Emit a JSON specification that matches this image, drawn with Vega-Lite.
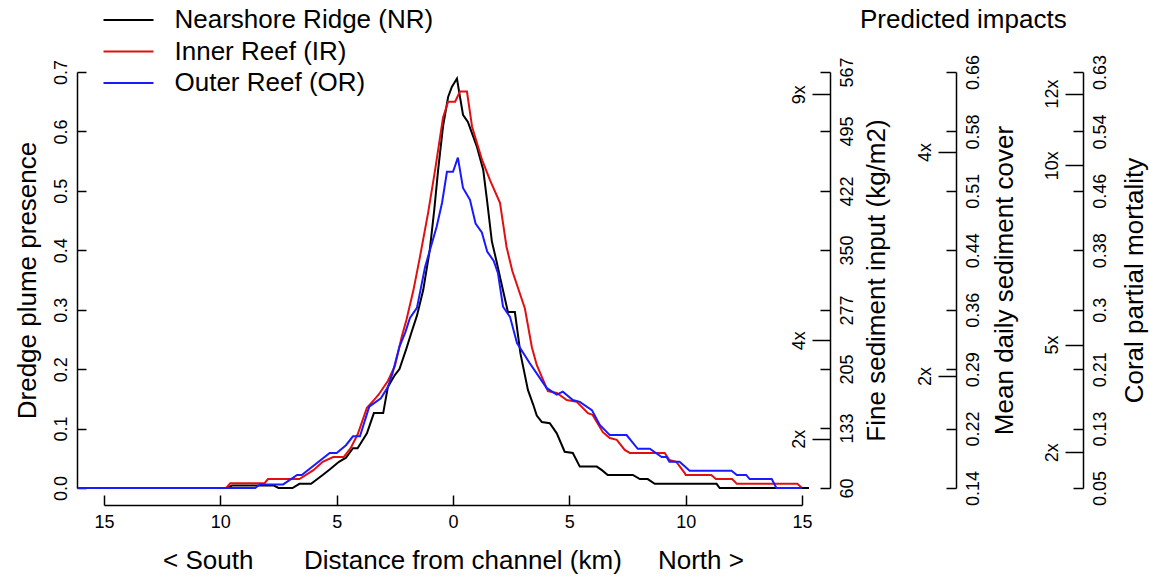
{
  "$schema": "https://vega.github.io/schema/vega-lite/v6.json",
  "width": 753,
  "height": 450,
  "autosize": {"type": "none"},
  "padding": {"left": 77, "top": 55, "right": 319, "bottom": 72},
  "background": "white",
  "config": {
    "font": "Liberation Sans",
    "view": {"stroke": null},
    "axis": {
      "grid": false,
      "labelFlush": false,
      "labelFont": "Liberation Sans",
      "titleFont": "Liberation Sans",
      "labelFontSize": 18,
      "titleFontSize": 26,
      "titleFontWeight": "normal",
      "labelColor": "black",
      "titleColor": "black",
      "domainColor": "black",
      "tickColor": "black",
      "domainWidth": 1.5,
      "tickWidth": 1.5
    },
    "legend": {
      "labelFont": "Liberation Sans",
      "labelFontSize": 26,
      "labelColor": "black",
      "labelLimit": 600
    }
  },
  "title": {
    "text": "Predicted impacts",
    "anchor": "start",
    "frame": "group",
    "dx": 783,
    "dy": 50,
    "offset": 24,
    "fontSize": 26,
    "fontWeight": "normal",
    "font": "Liberation Sans",
    "color": "black"
  },
  "layer": [
    {
      "data": {
        "values": [
          {"site": "Nearshore Ridge (NR)", "km": -16.1, "p": 0},
          {"site": "Nearshore Ridge (NR)", "km": -9.7, "p": 0},
          {"site": "Nearshore Ridge (NR)", "km": -9.5, "p": 0.004},
          {"site": "Nearshore Ridge (NR)", "km": -7.7, "p": 0.004},
          {"site": "Nearshore Ridge (NR)", "km": -7.5, "p": 0},
          {"site": "Nearshore Ridge (NR)", "km": -6.9, "p": 0},
          {"site": "Nearshore Ridge (NR)", "km": -6.6, "p": 0.007},
          {"site": "Nearshore Ridge (NR)", "km": -6.1, "p": 0.007},
          {"site": "Nearshore Ridge (NR)", "km": -5.9, "p": 0.013},
          {"site": "Nearshore Ridge (NR)", "km": -5.6, "p": 0.022},
          {"site": "Nearshore Ridge (NR)", "km": -5.3, "p": 0.031},
          {"site": "Nearshore Ridge (NR)", "km": -4.9, "p": 0.044},
          {"site": "Nearshore Ridge (NR)", "km": -4.6, "p": 0.051},
          {"site": "Nearshore Ridge (NR)", "km": -4.3, "p": 0.067},
          {"site": "Nearshore Ridge (NR)", "km": -4.1, "p": 0.067},
          {"site": "Nearshore Ridge (NR)", "km": -3.7, "p": 0.092},
          {"site": "Nearshore Ridge (NR)", "km": -3.4, "p": 0.126},
          {"site": "Nearshore Ridge (NR)", "km": -3.0, "p": 0.126},
          {"site": "Nearshore Ridge (NR)", "km": -2.8, "p": 0.17},
          {"site": "Nearshore Ridge (NR)", "km": -2.5, "p": 0.19},
          {"site": "Nearshore Ridge (NR)", "km": -2.3, "p": 0.2},
          {"site": "Nearshore Ridge (NR)", "km": -2.0, "p": 0.235},
          {"site": "Nearshore Ridge (NR)", "km": -1.8, "p": 0.26},
          {"site": "Nearshore Ridge (NR)", "km": -1.55, "p": 0.29},
          {"site": "Nearshore Ridge (NR)", "km": -1.28, "p": 0.333},
          {"site": "Nearshore Ridge (NR)", "km": -1.0, "p": 0.4},
          {"site": "Nearshore Ridge (NR)", "km": -0.8, "p": 0.47},
          {"site": "Nearshore Ridge (NR)", "km": -0.64, "p": 0.535},
          {"site": "Nearshore Ridge (NR)", "km": -0.43, "p": 0.608},
          {"site": "Nearshore Ridge (NR)", "km": -0.21, "p": 0.658},
          {"site": "Nearshore Ridge (NR)", "km": -0.05, "p": 0.675},
          {"site": "Nearshore Ridge (NR)", "km": 0.17, "p": 0.689},
          {"site": "Nearshore Ridge (NR)", "km": 0.3, "p": 0.658},
          {"site": "Nearshore Ridge (NR)", "km": 0.43, "p": 0.628},
          {"site": "Nearshore Ridge (NR)", "km": 0.64, "p": 0.616},
          {"site": "Nearshore Ridge (NR)", "km": 1.03, "p": 0.574},
          {"site": "Nearshore Ridge (NR)", "km": 1.3, "p": 0.535},
          {"site": "Nearshore Ridge (NR)", "km": 1.46, "p": 0.485},
          {"site": "Nearshore Ridge (NR)", "km": 1.67, "p": 0.415},
          {"site": "Nearshore Ridge (NR)", "km": 1.85, "p": 0.385},
          {"site": "Nearshore Ridge (NR)", "km": 2.02, "p": 0.355},
          {"site": "Nearshore Ridge (NR)", "km": 2.36, "p": 0.296},
          {"site": "Nearshore Ridge (NR)", "km": 2.66, "p": 0.296},
          {"site": "Nearshore Ridge (NR)", "km": 2.9, "p": 0.226},
          {"site": "Nearshore Ridge (NR)", "km": 3.22, "p": 0.165},
          {"site": "Nearshore Ridge (NR)", "km": 3.45, "p": 0.14},
          {"site": "Nearshore Ridge (NR)", "km": 3.6, "p": 0.122},
          {"site": "Nearshore Ridge (NR)", "km": 3.82, "p": 0.111},
          {"site": "Nearshore Ridge (NR)", "km": 4.16, "p": 0.109},
          {"site": "Nearshore Ridge (NR)", "km": 4.46, "p": 0.092},
          {"site": "Nearshore Ridge (NR)", "km": 4.8, "p": 0.061},
          {"site": "Nearshore Ridge (NR)", "km": 5.15, "p": 0.059},
          {"site": "Nearshore Ridge (NR)", "km": 5.45, "p": 0.036},
          {"site": "Nearshore Ridge (NR)", "km": 6.18, "p": 0.036},
          {"site": "Nearshore Ridge (NR)", "km": 6.4, "p": 0.03},
          {"site": "Nearshore Ridge (NR)", "km": 6.65, "p": 0.022},
          {"site": "Nearshore Ridge (NR)", "km": 7.73, "p": 0.022},
          {"site": "Nearshore Ridge (NR)", "km": 8.03, "p": 0.015},
          {"site": "Nearshore Ridge (NR)", "km": 8.37, "p": 0.015},
          {"site": "Nearshore Ridge (NR)", "km": 8.67, "p": 0.007},
          {"site": "Nearshore Ridge (NR)", "km": 11.33, "p": 0.007},
          {"site": "Nearshore Ridge (NR)", "km": 11.46, "p": 0},
          {"site": "Nearshore Ridge (NR)", "km": 15.3, "p": 0},

          {"site": "Inner Reef (IR)", "km": -16.1, "p": 0},
          {"site": "Inner Reef (IR)", "km": -9.75, "p": 0},
          {"site": "Inner Reef (IR)", "km": -9.57, "p": 0.008},
          {"site": "Inner Reef (IR)", "km": -8.1, "p": 0.008},
          {"site": "Inner Reef (IR)", "km": -7.95, "p": 0.015},
          {"site": "Inner Reef (IR)", "km": -6.6, "p": 0.015},
          {"site": "Inner Reef (IR)", "km": -6.0, "p": 0.03},
          {"site": "Inner Reef (IR)", "km": -5.6, "p": 0.044},
          {"site": "Inner Reef (IR)", "km": -5.15, "p": 0.052},
          {"site": "Inner Reef (IR)", "km": -4.7, "p": 0.052},
          {"site": "Inner Reef (IR)", "km": -4.4, "p": 0.067},
          {"site": "Inner Reef (IR)", "km": -4.1, "p": 0.09},
          {"site": "Inner Reef (IR)", "km": -3.7, "p": 0.135},
          {"site": "Inner Reef (IR)", "km": -3.4, "p": 0.148},
          {"site": "Inner Reef (IR)", "km": -3.2, "p": 0.157},
          {"site": "Inner Reef (IR)", "km": -2.8, "p": 0.18},
          {"site": "Inner Reef (IR)", "km": -2.5, "p": 0.205},
          {"site": "Inner Reef (IR)", "km": -2.2, "p": 0.255},
          {"site": "Inner Reef (IR)", "km": -2.0, "p": 0.283},
          {"site": "Inner Reef (IR)", "km": -1.7, "p": 0.333},
          {"site": "Inner Reef (IR)", "km": -1.42, "p": 0.389},
          {"site": "Inner Reef (IR)", "km": -1.07, "p": 0.463},
          {"site": "Inner Reef (IR)", "km": -0.77, "p": 0.535},
          {"site": "Inner Reef (IR)", "km": -0.43, "p": 0.623},
          {"site": "Inner Reef (IR)", "km": -0.21, "p": 0.65},
          {"site": "Inner Reef (IR)", "km": 0.09, "p": 0.65},
          {"site": "Inner Reef (IR)", "km": 0.3, "p": 0.667},
          {"site": "Inner Reef (IR)", "km": 0.6, "p": 0.667},
          {"site": "Inner Reef (IR)", "km": 0.82, "p": 0.608},
          {"site": "Inner Reef (IR)", "km": 1.25, "p": 0.552},
          {"site": "Inner Reef (IR)", "km": 1.59, "p": 0.518},
          {"site": "Inner Reef (IR)", "km": 2.02, "p": 0.48},
          {"site": "Inner Reef (IR)", "km": 2.3, "p": 0.406},
          {"site": "Inner Reef (IR)", "km": 2.55, "p": 0.365},
          {"site": "Inner Reef (IR)", "km": 3.09, "p": 0.302},
          {"site": "Inner Reef (IR)", "km": 3.39, "p": 0.237},
          {"site": "Inner Reef (IR)", "km": 3.6, "p": 0.207},
          {"site": "Inner Reef (IR)", "km": 3.84, "p": 0.185},
          {"site": "Inner Reef (IR)", "km": 4.08, "p": 0.163},
          {"site": "Inner Reef (IR)", "km": 4.46, "p": 0.16},
          {"site": "Inner Reef (IR)", "km": 4.89, "p": 0.148},
          {"site": "Inner Reef (IR)", "km": 5.32, "p": 0.145},
          {"site": "Inner Reef (IR)", "km": 5.8, "p": 0.126},
          {"site": "Inner Reef (IR)", "km": 6.0, "p": 0.123},
          {"site": "Inner Reef (IR)", "km": 6.44, "p": 0.094},
          {"site": "Inner Reef (IR)", "km": 6.74, "p": 0.084},
          {"site": "Inner Reef (IR)", "km": 7.04, "p": 0.081},
          {"site": "Inner Reef (IR)", "km": 7.38, "p": 0.064},
          {"site": "Inner Reef (IR)", "km": 7.6, "p": 0.059},
          {"site": "Inner Reef (IR)", "km": 9.1, "p": 0.059},
          {"site": "Inner Reef (IR)", "km": 9.3, "p": 0.047},
          {"site": "Inner Reef (IR)", "km": 9.6, "p": 0.044},
          {"site": "Inner Reef (IR)", "km": 9.96, "p": 0.025},
          {"site": "Inner Reef (IR)", "km": 10.0, "p": 0.022},
          {"site": "Inner Reef (IR)", "km": 11.1, "p": 0.022},
          {"site": "Inner Reef (IR)", "km": 11.3, "p": 0.015},
          {"site": "Inner Reef (IR)", "km": 12.0, "p": 0.015},
          {"site": "Inner Reef (IR)", "km": 12.2, "p": 0.007},
          {"site": "Inner Reef (IR)", "km": 14.8, "p": 0.007},
          {"site": "Inner Reef (IR)", "km": 15.0, "p": 0},

          {"site": "Outer Reef (OR)", "km": -16.1, "p": 0},
          {"site": "Outer Reef (OR)", "km": -8.5, "p": 0},
          {"site": "Outer Reef (OR)", "km": -8.3, "p": 0.006},
          {"site": "Outer Reef (OR)", "km": -7.3, "p": 0.006},
          {"site": "Outer Reef (OR)", "km": -6.7, "p": 0.022},
          {"site": "Outer Reef (OR)", "km": -6.5, "p": 0.022},
          {"site": "Outer Reef (OR)", "km": -5.3, "p": 0.059},
          {"site": "Outer Reef (OR)", "km": -5.0, "p": 0.059},
          {"site": "Outer Reef (OR)", "km": -4.6, "p": 0.072},
          {"site": "Outer Reef (OR)", "km": -4.3, "p": 0.087},
          {"site": "Outer Reef (OR)", "km": -4.0, "p": 0.087},
          {"site": "Outer Reef (OR)", "km": -3.6, "p": 0.137},
          {"site": "Outer Reef (OR)", "km": -3.1, "p": 0.151},
          {"site": "Outer Reef (OR)", "km": -2.8, "p": 0.17},
          {"site": "Outer Reef (OR)", "km": -2.6, "p": 0.193},
          {"site": "Outer Reef (OR)", "km": -2.3, "p": 0.238},
          {"site": "Outer Reef (OR)", "km": -2.05, "p": 0.262},
          {"site": "Outer Reef (OR)", "km": -1.85, "p": 0.286},
          {"site": "Outer Reef (OR)", "km": -1.55, "p": 0.303},
          {"site": "Outer Reef (OR)", "km": -1.2, "p": 0.372},
          {"site": "Outer Reef (OR)", "km": -0.7, "p": 0.44},
          {"site": "Outer Reef (OR)", "km": -0.47, "p": 0.48},
          {"site": "Outer Reef (OR)", "km": -0.26, "p": 0.532},
          {"site": "Outer Reef (OR)", "km": 0.0, "p": 0.532},
          {"site": "Outer Reef (OR)", "km": 0.21, "p": 0.556},
          {"site": "Outer Reef (OR)", "km": 0.43, "p": 0.505},
          {"site": "Outer Reef (OR)", "km": 0.73, "p": 0.485},
          {"site": "Outer Reef (OR)", "km": 0.97, "p": 0.445},
          {"site": "Outer Reef (OR)", "km": 1.24, "p": 0.43},
          {"site": "Outer Reef (OR)", "km": 1.47, "p": 0.398},
          {"site": "Outer Reef (OR)", "km": 1.75, "p": 0.382},
          {"site": "Outer Reef (OR)", "km": 1.93, "p": 0.362},
          {"site": "Outer Reef (OR)", "km": 2.15, "p": 0.305},
          {"site": "Outer Reef (OR)", "km": 2.45, "p": 0.288},
          {"site": "Outer Reef (OR)", "km": 2.75, "p": 0.244},
          {"site": "Outer Reef (OR)", "km": 3.3, "p": 0.21},
          {"site": "Outer Reef (OR)", "km": 4.03, "p": 0.168},
          {"site": "Outer Reef (OR)", "km": 4.46, "p": 0.157},
          {"site": "Outer Reef (OR)", "km": 4.72, "p": 0.162},
          {"site": "Outer Reef (OR)", "km": 5.15, "p": 0.148},
          {"site": "Outer Reef (OR)", "km": 5.45, "p": 0.145},
          {"site": "Outer Reef (OR)", "km": 5.97, "p": 0.131},
          {"site": "Outer Reef (OR)", "km": 6.31, "p": 0.106},
          {"site": "Outer Reef (OR)", "km": 6.74, "p": 0.089},
          {"site": "Outer Reef (OR)", "km": 7.46, "p": 0.089},
          {"site": "Outer Reef (OR)", "km": 7.94, "p": 0.066},
          {"site": "Outer Reef (OR)", "km": 8.46, "p": 0.066},
          {"site": "Outer Reef (OR)", "km": 8.97, "p": 0.052},
          {"site": "Outer Reef (OR)", "km": 9.18, "p": 0.052},
          {"site": "Outer Reef (OR)", "km": 9.3, "p": 0.044},
          {"site": "Outer Reef (OR)", "km": 9.74, "p": 0.044},
          {"site": "Outer Reef (OR)", "km": 10.17, "p": 0.029},
          {"site": "Outer Reef (OR)", "km": 11.97, "p": 0.029},
          {"site": "Outer Reef (OR)", "km": 12.2, "p": 0.022},
          {"site": "Outer Reef (OR)", "km": 12.6, "p": 0.022},
          {"site": "Outer Reef (OR)", "km": 12.75, "p": 0.015},
          {"site": "Outer Reef (OR)", "km": 13.7, "p": 0.015},
          {"site": "Outer Reef (OR)", "km": 13.9, "p": 0},
          {"site": "Outer Reef (OR)", "km": 15.0, "p": 0}
        ]
      },
      "mark": {"type": "line", "strokeWidth": 2, "clip": false},
      "encoding": {
        "x": {
          "field": "km", "type": "quantitative",
          "scale": {"domain": [-15, 15], "range": [27, 725], "nice": false, "zero": false},
          "axis": {
            "values": [-15, -10, -5, 0, 5, 10, 15],
            "labelExpr": "abs(datum.value)",
            "labelFlush": false,
            "tickSize": -10,
            "labelPadding": 18,
            "title": "<\u00a0South\u00a0\u00a0\u00a0\u00a0\u00a0\u00a0\u00a0Distance from channel (km)\u00a0\u00a0\u00a0\u00a0\u00a0North\u00a0>",
            "titlePadding": 16
          }
        },
        "y": {
          "field": "p", "type": "quantitative",
          "scale": {"domain": [0, 0.7], "range": [433, 17], "nice": false, "zero": false},
          "axis": {
            "orient": "left",
            "values": [0, 0.1, 0.2, 0.3, 0.4, 0.5, 0.6, 0.7],
            "format": ".1f",
            "labelFlush": false,
            "tickSize": -9,
            "labelAngle": 270,
            "labelPadding": 16,
            "title": "Dredge plume presence",
            "titlePadding": 12
          }
        },
        "color": {
          "field": "site", "type": "nominal",
          "scale": {
            "domain": ["Nearshore Ridge (NR)", "Inner Reef (IR)", "Outer Reef (OR)"],
            "range": ["#000000", "#e01010", "#1a1aff"]
          },
          "legend": {
            "title": null,
            "orient": "none",
            "legendX": 38.5,
            "legendY": -48,
            "symbolType": "M-10,0H10",
            "symbolSize": 25,
            "symbolStrokeWidth": 2,
            "labelOffset": 33,
            "rowPadding": 5.5
          }
        },
        "order": {"field": "km", "type": "quantitative"}
      }
    },
    {
      "mark": {"type": "rule", "strokeDash": [9, 7], "strokeWidth": 2, "color": "black"},
      "encoding": {"x": {"datum": 0, "type": "quantitative"}}
    },
    {
      "data": {"values": [{}]},
      "mark": {"type": "point", "opacity": 0},
      "encoding": {
        "y": {
          "datum": 60, "type": "quantitative",
          "scale": {"domain": [60, 567], "range": [433, 17], "nice": false, "zero": false},
          "axis": {
            "orient": "right",
            "values": [60, 133, 205, 277, 350, 422, 495, 567],
            "labelFlush": false,
            "tickSize": -10,
            "labelAngle": 270,
            "labelPadding": 18,
            "title": "Fine sediment input (kg/m2)",
            "titleAngle": 270,
            "titlePadding": 33
          }
        }
      }
    },
    {
      "data": {"values": [{}]},
      "mark": {"type": "point", "opacity": 0},
      "encoding": {
        "y": {
          "datum": 60, "type": "quantitative",
          "scale": {"domain": [60, 567], "range": [433, 17], "nice": false, "zero": false},
          "axis": {
            "orient": "left",
            "offset": -753,
            "domain": false,
            "values": [120, 240, 540],
            "labelExpr": "round(datum.value/60)+'x'",
            "labelFlush": false,
            "tickSize": 18,
            "labelAngle": 270,
            "labelPadding": 4,
            "title": null
          }
        }
      }
    },
    {
      "data": {"values": [{}]},
      "mark": {"type": "point", "opacity": 0},
      "encoding": {
        "y": {
          "datum": 0.14, "type": "quantitative",
          "scale": {"domain": [0.14, 0.66], "range": [433, 17], "nice": false, "zero": false},
          "axis": {
            "orient": "right",
            "offset": 126,
            "values": [0.14, 0.214286, 0.288571, 0.362857, 0.437143, 0.511429, 0.585714, 0.66],
            "labelExpr": "['0.14','0.22','0.29','0.36','0.44','0.51','0.58','0.66'][round((datum.value-0.14)/0.0742857)]",
            "labelFlush": false,
            "tickSize": -10,
            "labelAngle": 270,
            "labelPadding": 18,
            "title": "Mean daily sediment cover",
            "titleAngle": 270,
            "titlePadding": 35
          }
        }
      }
    },
    {
      "data": {"values": [{}]},
      "mark": {"type": "point", "opacity": 0},
      "encoding": {
        "y": {
          "datum": 0.14, "type": "quantitative",
          "scale": {"domain": [0.14, 0.66], "range": [433, 17], "nice": false, "zero": false},
          "axis": {
            "orient": "left",
            "offset": -879,
            "domain": false,
            "values": [0.28, 0.56],
            "labelExpr": "round(datum.value/0.14)+'x'",
            "labelFlush": false,
            "tickSize": 18,
            "labelAngle": 270,
            "labelPadding": 4,
            "title": null
          }
        }
      }
    },
    {
      "data": {"values": [{}]},
      "mark": {"type": "point", "opacity": 0},
      "encoding": {
        "y": {
          "datum": 0.05, "type": "quantitative",
          "scale": {"domain": [0.05, 0.63], "range": [433, 17], "nice": false, "zero": false},
          "axis": {
            "orient": "right",
            "offset": 253,
            "values": [0.05, 0.132857, 0.215714, 0.298571, 0.381429, 0.464286, 0.547143, 0.63],
            "labelExpr": "['0.05','0.13','0.21','0.3','0.38','0.46','0.54','0.63'][round((datum.value-0.05)/0.0828571)]",
            "labelFlush": false,
            "tickSize": -10,
            "labelAngle": 270,
            "labelPadding": 18,
            "title": "Coral partial mortality",
            "titleAngle": 270,
            "titlePadding": 38
          }
        }
      }
    },
    {
      "data": {"values": [{}]},
      "mark": {"type": "point", "opacity": 0},
      "encoding": {
        "y": {
          "datum": 0.05, "type": "quantitative",
          "scale": {"domain": [0.05, 0.63], "range": [433, 17], "nice": false, "zero": false},
          "axis": {
            "orient": "left",
            "offset": -1006,
            "domain": false,
            "values": [0.1, 0.25, 0.5, 0.6],
            "labelExpr": "round(datum.value/0.05)+'x'",
            "labelFlush": false,
            "tickSize": 18,
            "labelAngle": 270,
            "labelPadding": 4,
            "title": null
          }
        }
      }
    }
  ],
  "resolve": {"scale": {"y": "independent"}, "axis": {"y": "independent"}}
}
